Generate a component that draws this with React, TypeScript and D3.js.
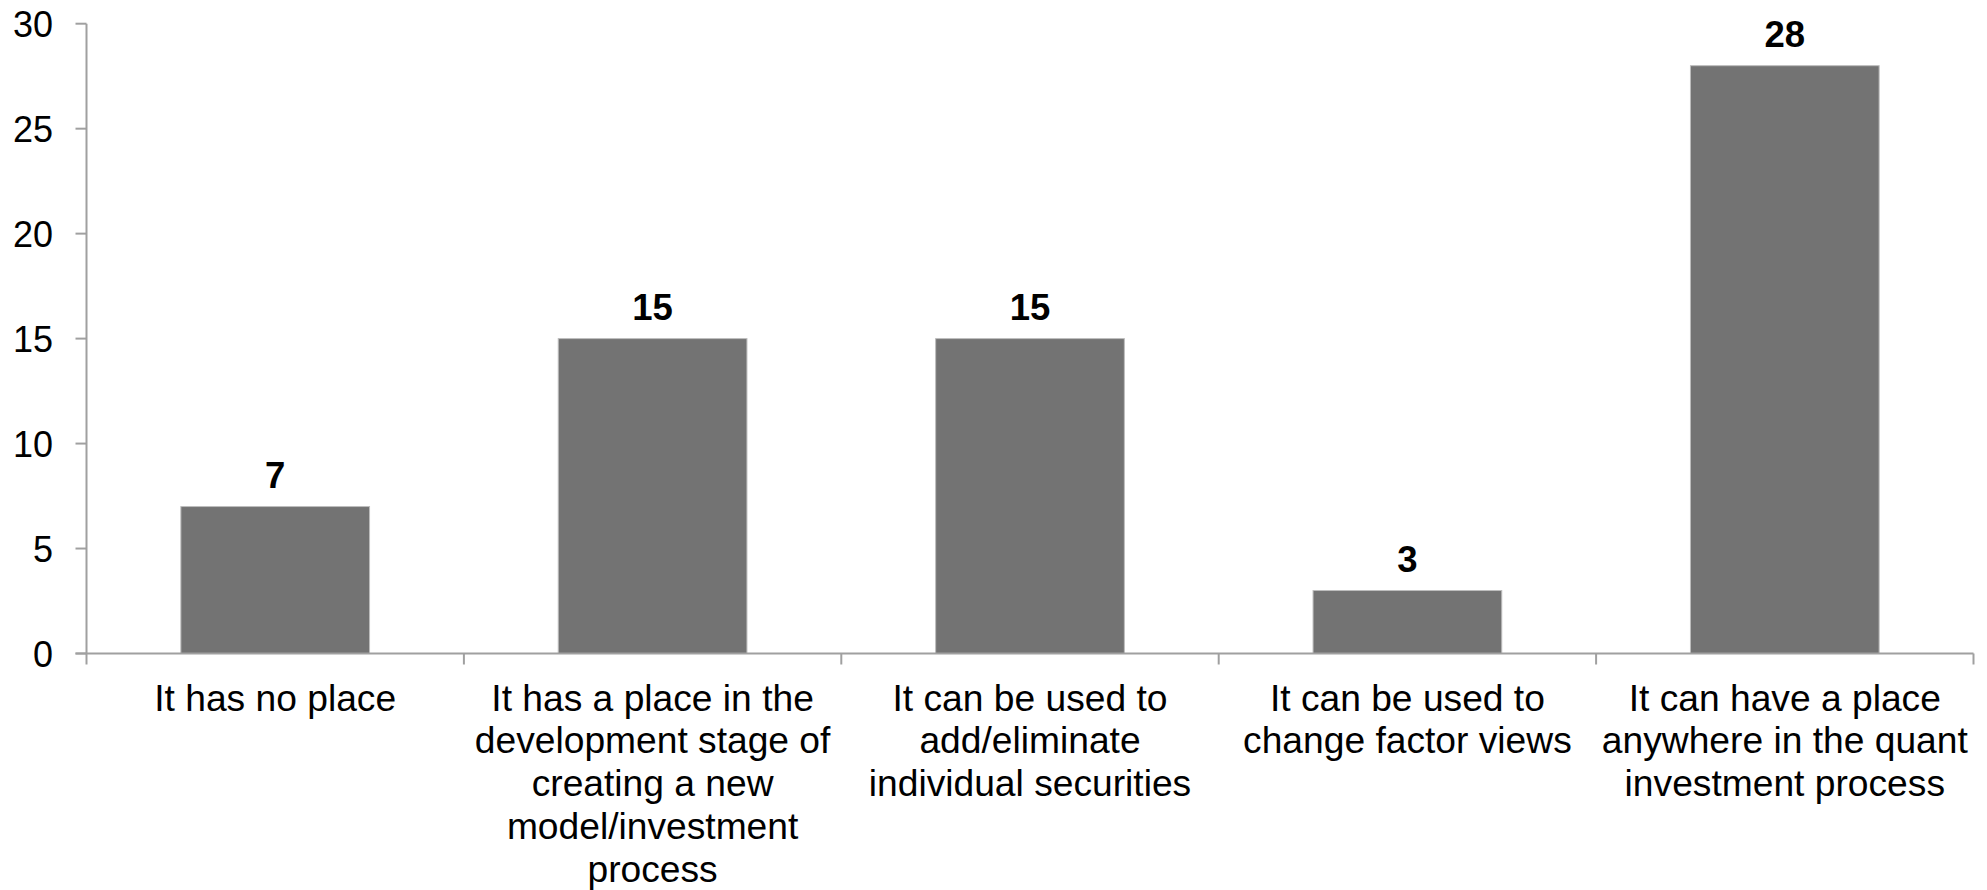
import React from "react";
import * as d3 from "d3";

const categories: string[][] = [
  ["It has no place"],
  ["It has a place in the", "development stage of", "creating a new", "model/investment", "process"],
  ["It can be used to", "add/eliminate", "individual securities"],
  ["It can be used to", "change factor views"],
  ["It can have a place", "anywhere in the quant", "investment process"],
];
const values: number[] = [7, 15, 15, 3, 28];
const yTicks: number[] = [0, 5, 10, 15, 20, 25, 30];

const W = 1987;
const H = 890;
const left = 86.5;
const right = 1973.5;
const top = 23.7;
const bottom = 653.5;
const font = "'Liberation Sans', Arial, sans-serif";

export default function App() {
  const ids = categories.map((_, i) => String(i));
  const x = d3.scaleBand<string>().domain(ids).range([left, right]).paddingInner(0.5).paddingOuter(0.25);
  const y = d3.scaleLinear().domain([0, 30]).range([bottom, top]);
  const step = x.step();
  const boundaries = d3.range(ids.length + 1).map((i) => left + i * step);

  return (
    <svg width={W} height={H} style={{ position: "absolute", left: 0, top: 0, background: "#fff" }}>
      {ids.map((id, i) => (
        <g key={id}>
          <rect
            x={x(id)!}
            y={y(values[i])}
            width={x.bandwidth()}
            height={y(0) - y(values[i])}
            fill="#737373"
            stroke="#bdbdbd"
            strokeWidth={1}
          />
          <text
            x={x(id)! + x.bandwidth() / 2}
            y={y(values[i]) - 19}
            textAnchor="middle"
            fontFamily={font}
            fontWeight="bold"
            fontSize={36.5}
            fill="#000"
          >
            {values[i]}
          </text>
          <text
            x={x(id)! + x.bandwidth() / 2}
            y={bottom + 57}
            textAnchor="middle"
            fontFamily={font}
            fontSize={37.2}
            fill="#000"
          >
            {categories[i].map((line, j) => (
              <tspan key={j} x={x(id)! + x.bandwidth() / 2} dy={j === 0 ? 0 : 42.8}>
                {line}
              </tspan>
            ))}
          </text>
        </g>
      ))}
      {/* y axis */}
      <line x1={left} x2={left} y1={y(30)} y2={bottom} stroke="#a0a0a0" strokeWidth={2} />
      {yTicks.map((t) => (
        <g key={t}>
          <line x1={left - 11} x2={left} y1={y(t)} y2={y(t)} stroke="#a0a0a0" strokeWidth={2} />
          <text
            x={53}
            y={y(t) + 13}
            textAnchor="end"
            fontFamily={font}
            fontSize={36}
            fill="#000"
          >
            {t}
          </text>
        </g>
      ))}
      {/* x axis */}
      <line x1={left - 11} x2={right} y1={bottom} y2={bottom} stroke="#a0a0a0" strokeWidth={2} />
      {boundaries.map((bx, i) => (
        <line key={i} x1={bx} x2={bx} y1={bottom} y2={bottom + 11} stroke="#a0a0a0" strokeWidth={2} />
      ))}
    </svg>
  );
}
